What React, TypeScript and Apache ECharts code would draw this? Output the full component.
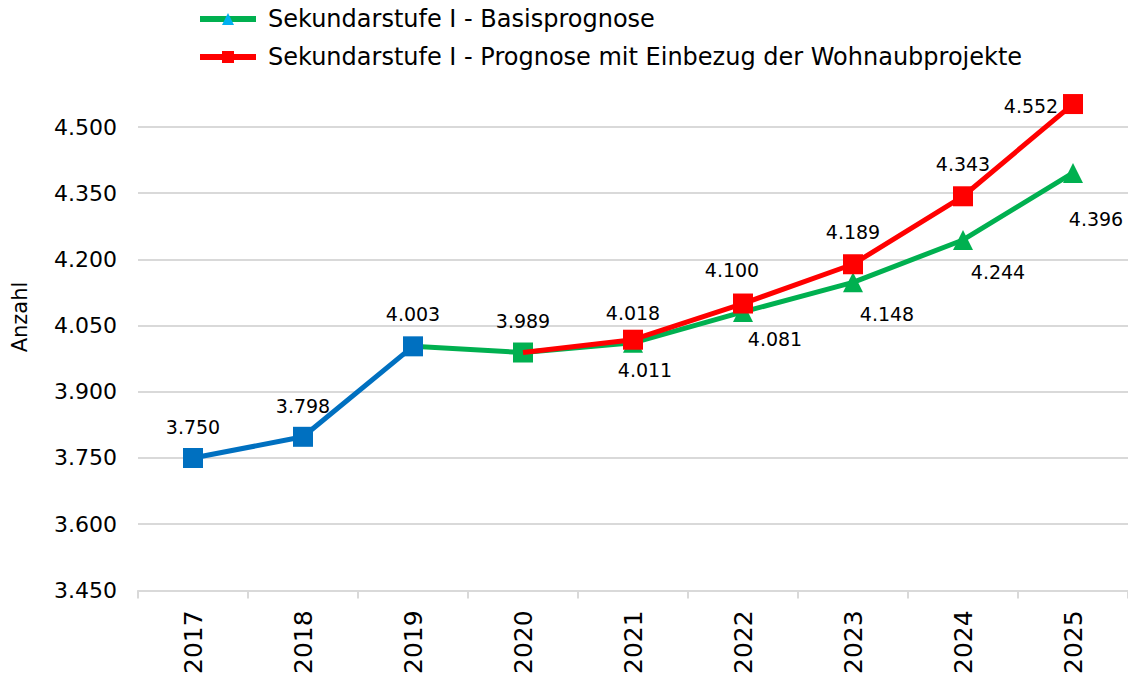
import React, { useEffect, useRef } from "react";
import * as echarts from "echarts";

const years = ["2017", "2018", "2019", "2020", "2021", "2022", "2023", "2024", "2025"];
const istValues = [3750, 3798, 4003, null, null, null, null, null, null];
const basisValues = [null, null, 4003, 3989, 4011, 4081, 4148, 4244, 4396];
const wohnbauValues = [null, null, null, 3989, 4018, 4100, 4189, 4343, 4552];
const yTicks = { min: 3450, max: 4500, interval: 150 };

const NAME_BASIS = "Sekundarstufe I - Basisprognose";
const NAME_WOHNBAU = "Sekundarstufe I - Prognose mit Einbezug der Wohnaubprojekte";
const NAME_IST = "Ist";

// label offsets (layout only)
const istLabelOffsets = [[0, -31], [0, -31], [0, -32]];
const basisLabelOffsets: Record<number, number[]> = {
  3: [0, -32], 4: [12, 27], 5: [32, 27], 6: [34, 32], 7: [35, 32], 8: [23, 46],
};
const wohnbauLabelOffsets: Record<number, number[]> = {
  4: [0, -27], 5: [-11, -34], 6: [0, -32], 7: [0, -32], 8: [-42, 2],
};

const FONT = "DejaVu Sans, Verdana, sans-serif";
const fmt = (v: number) => Math.floor(v / 1000) + "." + String(v % 1000).padStart(3, "0");

const labelBase = {
  show: true,
  position: "inside",
  fontFamily: FONT,
  fontSize: 19,
  color: "#000",
  formatter: (p: any) => fmt(p.value),
};

function buildIst() {
  return istValues.map((v, i) => {
    if (v == null) return null;
    return { value: v, label: { ...labelBase, offset: istLabelOffsets[i] } };
  });
}
function buildBasis() {
  return basisValues.map((v, i) => {
    if (v == null) return null;
    const item: any = { value: v };
    if (i === 2) item.symbol = "none";
    if (i === 3) item.symbol = "rect";
    if (basisLabelOffsets[i]) item.label = { ...labelBase, offset: basisLabelOffsets[i] };
    else item.label = { show: false };
    return item;
  });
}
function buildWohnbau() {
  return wohnbauValues.map((v, i) => {
    if (v == null) return null;
    const item: any = { value: v };
    if (i === 3) item.symbol = "none";
    if (wohnbauLabelOffsets[i]) item.label = { ...labelBase, offset: wohnbauLabelOffsets[i] };
    else item.label = { show: false };
    return item;
  });
}

export default function App() {
  const ref = useRef<HTMLDivElement>(null);
  useEffect(() => {
    if (!ref.current) return;
    const chart = echarts.init(ref.current, null, { renderer: "svg" });
    chart.setOption({
      animation: false,
      backgroundColor: "#fff",
      textStyle: { fontFamily: FONT },
      grid: { left: 138, right: 0, top: 127, bottom: 86, containLabel: false },
      legend: {
        orient: "vertical",
        left: 197,
        top: 7,
        padding: 0,
        itemWidth: 56,
        itemHeight: 15,
        itemGap: 14,
        textStyle: { fontFamily: FONT, fontSize: 24, color: "#000", lineHeight: 24, padding: [0, 0, 0, 7] },
        data: [
          { name: NAME_BASIS, itemStyle: { color: "#00B0F0" }, lineStyle: { width: 6, color: "#00B050" } },
          { name: NAME_WOHNBAU, lineStyle: { width: 6, color: "#FF0000" } },
        ],
      },
      graphic: [
        {
          type: "text",
          x: 20,
          y: 317,
          rotation: Math.PI / 2,
          style: {
            text: "Anzahl",
            fontFamily: FONT,
            fontSize: 21,
            fill: "#000",
            align: "center",
            verticalAlign: "middle",
          },
        },
      ],
      xAxis: {
        type: "category",
        data: years,
        boundaryGap: true,
        axisLine: { show: true, lineStyle: { color: "#D9D9D9", width: 2 } },
        axisTick: { show: true, alignWithLabel: false, length: 8, lineStyle: { color: "#D9D9D9", width: 2 } },
        axisLabel: {
          rotate: 90,
          margin: 20,
          fontFamily: FONT,
          fontSize: 25,
          color: "#000",
        },
        splitLine: { show: false },
      },
      yAxis: {
        type: "value",
        min: yTicks.min,
        max: yTicks.max,
        interval: yTicks.interval,
        axisLine: { show: false },
        axisTick: { show: false },
        axisLabel: {
          margin: 21,
          fontFamily: FONT,
          fontSize: 22,
          color: "#000",
          formatter: (v: number) => fmt(v),
        },
        splitLine: { show: true, lineStyle: { color: "#D9D9D9", width: 2 } },
      },
      series: [
        {
          name: NAME_BASIS,
          type: "line",
          data: buildBasis(),
          symbol: "triangle",
          symbolSize: 20,
          clip: false,
          lineStyle: { color: "#00B050", width: 5 },
          itemStyle: { color: "#00B050" },
          z: 2,
        },
        {
          name: NAME_WOHNBAU,
          type: "line",
          data: buildWohnbau(),
          symbol: "rect",
          symbolSize: 20,
          clip: false,
          lineStyle: { color: "#FF0000", width: 5 },
          itemStyle: { color: "#FF0000" },
          z: 3,
        },
        {
          name: NAME_IST,
          type: "line",
          data: buildIst(),
          symbol: "rect",
          symbolSize: 20,
          clip: false,
          lineStyle: { color: "#0070C0", width: 5 },
          itemStyle: { color: "#0070C0" },
          z: 4,
        },
      ],
    });
    return () => chart.dispose();
  }, []);
  return (
    <div
      ref={ref}
      style={{ position: "fixed", left: 0, top: 0, width: 1128, height: 677 }}
    />
  );
}
